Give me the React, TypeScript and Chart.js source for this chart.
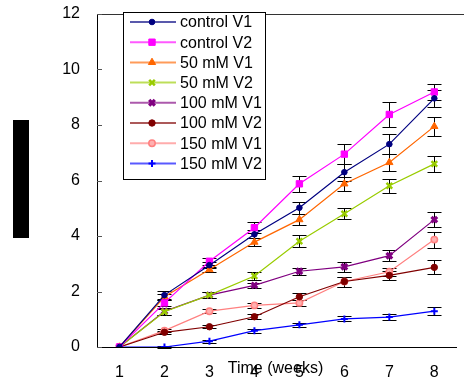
import React, { useEffect, useRef } from "react";
import { Chart, registerables } from "chart.js";
import { drawPoint } from "chart.js/helpers";

Chart.register(...registerables);

const weeks = ["1", "2", "3", "4", "5", "6", "7", "8"];

const controlV1 = [0, 1.87, 2.95, 4.06, 5.02, 6.3, 7.31, 8.96];
const controlV2 = [0, 1.59, 3.09, 4.3, 5.88, 6.95, 8.38, 9.19];
const mM50V1 = [0, 1.81, 2.79, 3.78, 4.59, 5.88, 6.65, 7.95];
const mM50V2 = [0, 1.27, 1.87, 2.56, 3.81, 4.8, 5.81, 6.6];
const mM100V1 = [0, 1.29, 1.87, 2.22, 2.73, 2.89, 3.29, 4.59];
const mM100V2 = [0, 0.53, 0.73, 1.09, 1.81, 2.36, 2.58, 2.87];
const mM150V1 = [0, 0.59, 1.29, 1.5, 1.59, 2.36, 2.71, 3.87];
const mM150V2 = [0, 0.0, 0.21, 0.59, 0.8, 1.01, 1.08, 1.29];

const controlV1Err = [0, 0.14, 0.1, 0.15, 0.21, 0.3, 0.35, 0.3];
const controlV2Err = [0, 0.1, 0.12, 0.2, 0.29, 0.35, 0.44, 0.3];
const mM50V1Err = [0, 0.1, 0.1, 0.15, 0.2, 0.25, 0.31, 0.35];
const mM50V2Err = [0, 0.1, 0.1, 0.16, 0.21, 0.2, 0.26, 0.3];
const mM100V1Err = [0, 0.12, 0.1, 0.1, 0.13, 0.18, 0.19, 0.27];
const mM100V2Err = [0, 0.06, 0.06, 0.09, 0.12, 0.18, 0.15, 0.25];
const mM150V1Err = [0, 0.06, 0.07, 0.08, 0.1, 0.18, 0.15, 0.29];
const mM150V2Err = [0, 0.03, 0.05, 0.07, 0.07, 0.09, 0.11, 0.15];

const yTicks = [0, 2, 4, 6, 8, 10, 12];
const xTitle = "Time (weeks)";

const FONT = '"Liberation Sans", Arial, sans-serif';

const series = [
  { label: "control V1", data: controlV1, err: controlV1Err, color: "#000080", bg: "#000080", style: "circle", radius: 2.8, bw: 1 },
  { label: "control V2", data: controlV2, err: controlV2Err, color: "#FF00FF", bg: "#FF00FF", style: "rect", radius: 4.5, bw: 1 },
  { label: "50 mM V1", data: mM50V1, err: mM50V1Err, color: "#FF6600", bg: "#FF6600", style: "triangle", radius: 4.2, bw: 1 },
  { label: "50 mM V2", data: mM50V2, err: mM50V2Err, color: "#99CC00", bg: "#99CC00", style: "crossRot", radius: 4, bw: 2.5 },
  { label: "100 mM V1", data: mM100V1, err: mM100V1Err, color: "#800080", bg: "#800080", style: "crossRot", radius: 4, bw: 3.2 },
  { label: "100 mM V2", data: mM100V2, err: mM100V2Err, color: "#800000", bg: "#800000", style: "circle", radius: 3.2, bw: 1 },
  { label: "150 mM V1", data: mM150V1, err: mM150V1Err, color: "#FF8080", bg: "#FFB0B0", style: "circle", radius: 3.2, bw: 1.5 },
  { label: "150 mM V2", data: mM150V2, err: mM150V2Err, color: "#0000FF", bg: "#0000FF", style: "cross", radius: 3.5, bw: 2 },
];

const extras = {
  id: "extras",
  beforeDatasetsDraw(chart: any) {
    const ctx = chart.ctx;
    const yScale = chart.scales.y;
    ctx.save();
    ctx.strokeStyle = "#000";
    ctx.lineWidth = 1;
    series.forEach((s, di) => {
      const meta = chart.getDatasetMeta(di);
      s.data.forEach((v, i) => {
        const e = s.err[i];
        if (!e) return;
        const x = Math.round(meta.data[i].x) + 0.5;
        const yt = Math.round(yScale.getPixelForValue(v + e)) + 0.5;
        const yb = Math.round(yScale.getPixelForValue(v - e)) + 0.5;
        ctx.beginPath();
        ctx.moveTo(x, yt);
        ctx.lineTo(x, yb);
        ctx.moveTo(x - 7, yt);
        ctx.lineTo(x + 7, yt);
        ctx.moveTo(x - 7, yb);
        ctx.lineTo(x + 7, yb);
        ctx.stroke();
      });
    });
    ctx.restore();
  },
  afterDraw(chart: any) {
    const ctx = chart.ctx;
    const area = chart.chartArea;
    const yScale = chart.scales.y;
    ctx.save();
    // top border
    ctx.strokeStyle = "#333";
    ctx.lineWidth = 1;
    ctx.beginPath();
    ctx.moveTo(area.left, Math.round(area.top) + 0.5);
    ctx.lineTo(chart.width, Math.round(area.top) + 0.5);
    ctx.stroke();
    // inner y tick marks
    ctx.strokeStyle = "#555";
    yTicks.forEach((t) => {
      const y = Math.round(yScale.getPixelForValue(t)) + 0.5;
      ctx.beginPath();
      ctx.moveTo(area.left, y);
      ctx.lineTo(area.left + 5, y);
      ctx.stroke();
    });
    // black block (y title area)
    ctx.fillStyle = "#000";
    ctx.fillRect(13, 120, 16, 118);
    // x title
    ctx.fillStyle = "#000";
    ctx.font = "16px " + FONT;
    ctx.textAlign = "center";
    ctx.textBaseline = "alphabetic";
    ctx.fillText(xTitle, 275.5, 373);
    // legend
    const lx = 123.5, ly = 12.5, lw = 142, lh = 167;
    ctx.fillStyle = "#fff";
    ctx.fillRect(lx, ly, lw, lh);
    ctx.strokeStyle = "#000";
    ctx.lineWidth = 1;
    ctx.strokeRect(lx, ly, lw, lh);
    series.forEach((s, i) => {
      const y = 22 + i * 20.2;
      ctx.save();
      ctx.globalAlpha = 0.65;
      ctx.strokeStyle = s.color;
      ctx.lineWidth = 2;
      ctx.beginPath();
      ctx.moveTo(130, y);
      ctx.lineTo(176, y);
      ctx.stroke();
      ctx.restore();
      ctx.fillStyle = s.bg;
      ctx.strokeStyle = s.color;
      ctx.lineWidth = s.bw;
      drawPoint(ctx, { pointStyle: s.style, rotation: 0, radius: s.radius, borderWidth: s.bw }, 152, y);
      ctx.fillStyle = "#000";
      ctx.font = "16px " + FONT;
      ctx.textAlign = "left";
      ctx.textBaseline = "middle";
      ctx.fillText(s.label, 180, y + 1);
    });
    ctx.restore();
  },
};

export default function App() {
  const ref = useRef<HTMLCanvasElement | null>(null);
  useEffect(() => {
    document.body.style.margin = "0";
    const canvas = ref.current;
    if (!canvas) return;
    const chart = new Chart(canvas, {
      type: "line",
      data: {
        labels: weeks,
        datasets: series.map((s) => ({
          label: s.label,
          data: s.data,
          borderColor: s.color,
          backgroundColor: s.bg,
          pointBackgroundColor: s.bg,
          pointBorderColor: s.color,
          pointStyle: s.style as any,
          pointRadius: s.radius,
          pointBorderWidth: s.bw,
          borderWidth: 1.2,
          tension: 0,
          fill: false,
        })),
      },
      options: {
        animation: false,
        responsive: true,
        maintainAspectRatio: false,
        layout: { padding: { top: 14, left: 0, right: 0, bottom: 0 } },
        plugins: {
          legend: { display: false },
          title: { display: false },
          tooltip: { enabled: false },
        },
        scales: {
          x: {
            type: "category",
            offset: true,
            grid: { display: true, drawOnChartArea: false, drawTicks: false },
            border: { display: true, color: "#000", width: 1 },
            ticks: { color: "#000", font: { family: FONT, size: 16 }, padding: 16, maxRotation: 0 },
            afterFit: (scale: any) => {
              scale.height = 36;
              scale.paddingLeft = 0;
              scale.paddingRight = 0;
            },
          },
          y: {
            min: 0,
            max: 12,
            grid: { display: true, drawOnChartArea: false, drawTicks: false },
            border: { display: true, color: "#000", width: 1 },
            ticks: { stepSize: 2, color: "#000", font: { family: FONT, size: 16 }, padding: 17 },
            afterFit: (scale: any) => {
              scale.width = 97;
              scale.paddingTop = 0;
              scale.paddingBottom = 0;
            },
          },
        },
      },
      plugins: [extras],
    });
    return () => chart.destroy();
  }, []);
  return (
    <div style={{ width: 464, height: 383, position: "relative" }}>
      <canvas ref={ref} />
    </div>
  );
}
